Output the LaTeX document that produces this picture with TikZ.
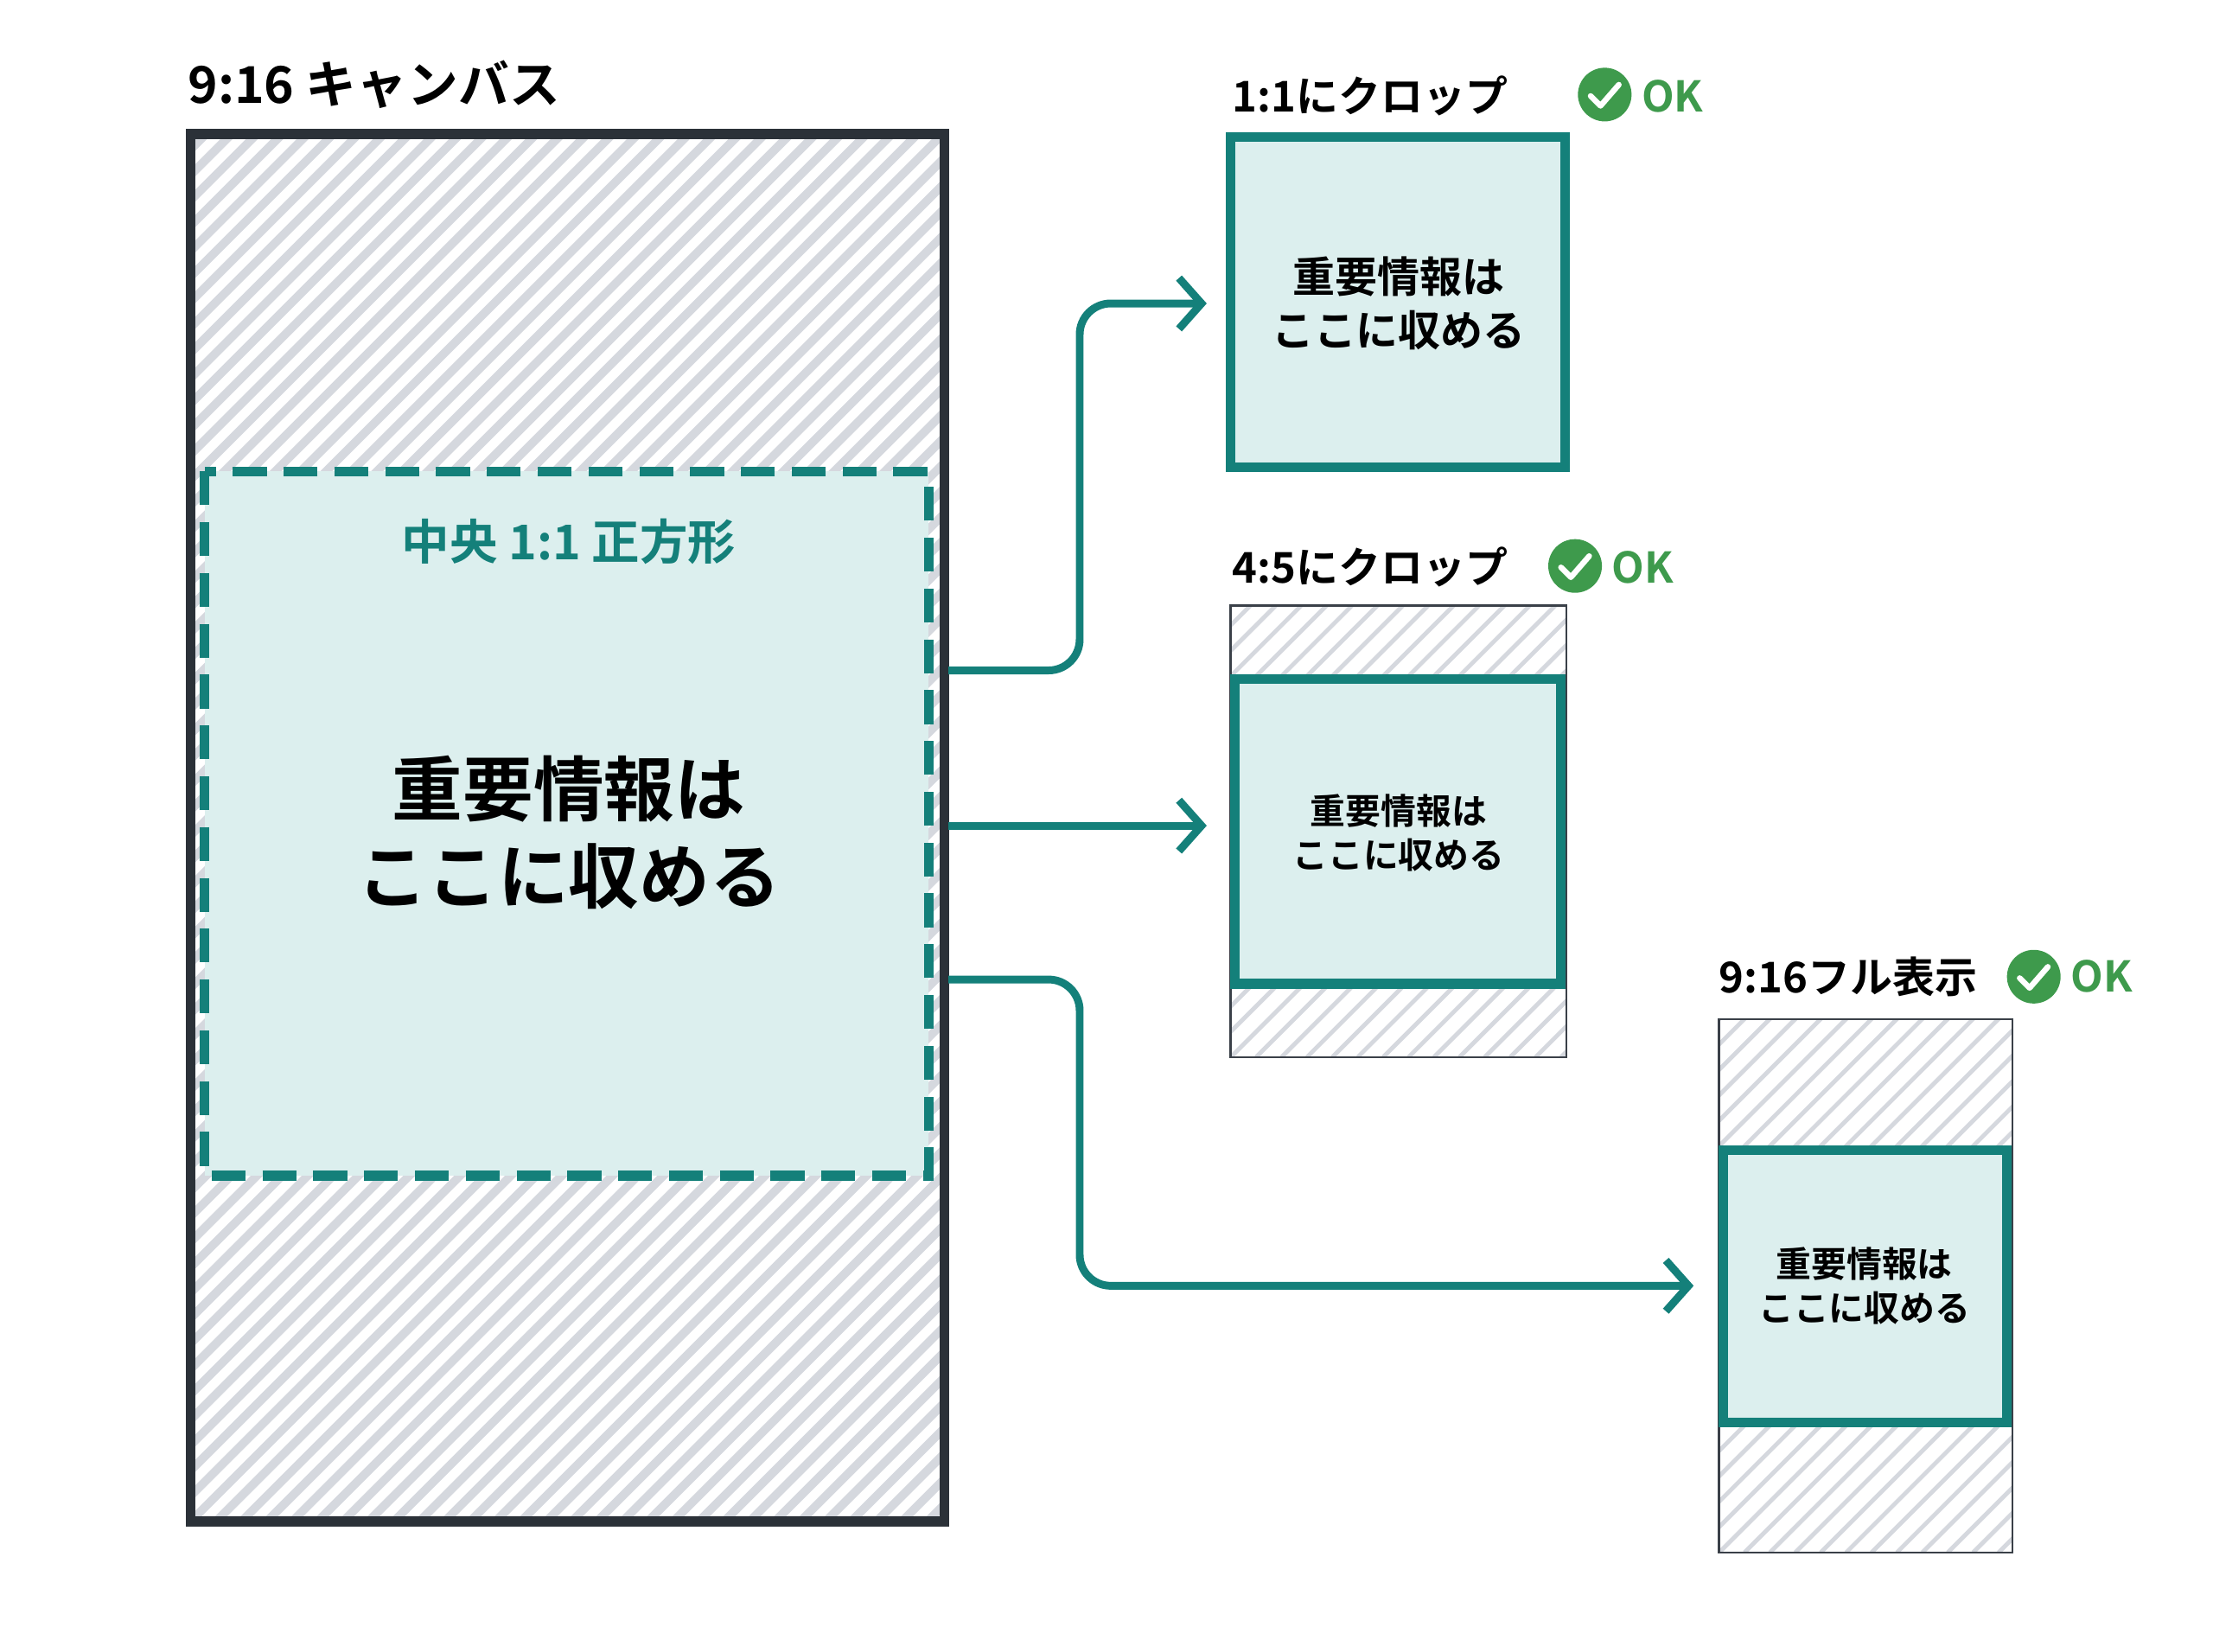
\documentclass[tikz,border=0pt]{standalone}
\usepackage{fontspec}
\setmainfont{Noto Sans CJK JP}[BoldFont={Noto Sans CJK JP Bold}]
\usetikzlibrary{arrows.meta}
\definecolor{teal1}{HTML}{14807A}
\definecolor{tealfill}{HTML}{DCEFEE}
\definecolor{dark}{HTML}{2B3138}
\definecolor{hatchc}{HTML}{D5D8DE}
\definecolor{okgreen}{HTML}{3E9A4C}
\definecolor{graybd}{HTML}{3A4048}
\newcommand\hatchrect[5]{%
  \begin{scope}
  \clip (#1,#2) rectangle (#3,#4);
  \fill[white] (#1,#2) rectangle (#3,#4);
  \foreach \i in {-1200,-1180,...,700}{\draw[hatchc,line width=#5] ({#1+\i*0.9},#4) -- ++(1300,-1300);}
  \end{scope}}
\begin{document}
\begin{tikzpicture}[x=1pt,y=-1pt,
  conn/.style={teal1,line width=5.5pt,rounded corners=22pt,-{Straight Barb[length=16pt,width=36pt,line width=5.5pt]}},
  lbl/.style={font=\bfseries\fontsize{30}{34}\selectfont,anchor=west,inner sep=0},
  ok/.style={font=\bfseries\fontsize{30}{34}\selectfont,okgreen,anchor=west,inner sep=0},
  inbox/.style={draw=teal1,line width=7pt,fill=tealfill},
  outbox/.style={draw=graybd,line width=1.5pt}]
\useasboundingbox[fill=white] (0,0) rectangle (1568,1170);
% big canvas
\hatchrect{135}{95}{669}{1078}{6pt}
\draw[inbox,dash pattern=on 24pt off 12pt] (145,334) rectangle (658,833);
\draw[dark,line width=7pt] (135,95) rectangle (669,1078);
\node[font=\bfseries\fontsize{36}{40}\selectfont,anchor=west,inner sep=0] (title) at (133,60) {9:16 キャンバス};
\node[font=\bfseries\fontsize{34}{38}\selectfont,teal1] (sqlbl) at (403,384) {中央 1:1 正方形};
\node[font=\bfseries\fontsize{50}{62}\selectfont,align=center] (bigtxt) at (403,590) {重要情報は\\ここに収める};
% box 1
\draw[inbox] (872,97) rectangle (1109,331);
\node[font=\bfseries\fontsize{30}{38}\selectfont,align=center] (b1) at (991,215) {重要情報は\\ここに収める};
\node[lbl] (l1) at (873,68) {1:1にクロップ};
\fill[okgreen] (1137,67) circle (19pt);
\draw[white,line width=4pt,line cap=round,line join=round] (1127,68) -- (1134,75) -- (1147,60);
\node[ok] (ok1) at (1163,68) {OK};
% box 2
\hatchrect{872}{429}{1110}{749}{3pt}
\draw[outbox] (872,429) rectangle (1110,749);
\draw[inbox] (875,481) rectangle (1106,697);
\node[font=\bfseries\fontsize{25}{31}\selectfont,align=center] (b2) at (991,590) {重要情報は\\ここに収める};
\node[lbl] (l2) at (873,402) {4:5にクロップ};
\fill[okgreen] (1116,401) circle (19pt);
\draw[white,line width=4pt,line cap=round,line join=round] (1106,402) -- (1113,409) -- (1126,394);
\node[ok] (ok2) at (1142,402) {OK};
% box 3
\hatchrect{1218}{722}{1426}{1100}{3pt}
\draw[outbox] (1218,722) rectangle (1426,1100);
\draw[inbox] (1221,815) rectangle (1422,1008);
\node[font=\bfseries\fontsize{25}{31}\selectfont,align=center] (b3) at (1321,911) {重要情報は\\ここに収める};
\node[lbl] (l3) at (1218,692) {9:16フル表示};
\fill[okgreen] (1441,692) circle (19pt);
\draw[white,line width=4pt,line cap=round,line join=round] (1431,693) -- (1438,700) -- (1451,685);
\node[ok] (ok3) at (1467,692) {OK};
% connectors
\coordinate (s1) at (672,475);
\coordinate (s2) at (672,585);
\coordinate (s3) at (672,694);
\coordinate (e1) at (855,215);
\coordinate (e2) at (855,585);
\coordinate (e3) at (1200,911);
\draw[conn] (s1) -- (765,475) -- (765,215) -- (e1);
\draw[conn] (s2) -- (e2);
\draw[conn] (s3) -- (765,694) -- (765,911) -- (e3);
\end{tikzpicture}
\end{document}
